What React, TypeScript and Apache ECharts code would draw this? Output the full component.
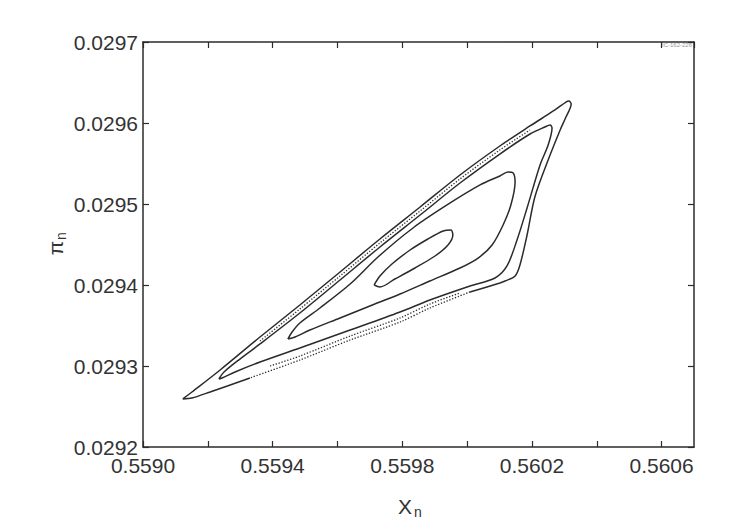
import React, { useEffect, useRef } from "react";
import * as echarts from "echarts";

// Axis ranges / ticks
const xMin = 0.559;
const xMax = 0.5607;
const xStep = 0.0002;
const yMin = 0.0292;
const yMax = 0.0297;
const yStep = 0.0001;

// Outer invariant curve (solid part)
const loopASolid: [number, number][] = [
  [0.55933, 0.0292852], [0.559207, 0.0292679], [0.559151, 0.0292605], [0.559123, 0.0292593],
  [0.559151, 0.0292679], [0.559238, 0.0292951], [0.559361, 0.0293358], [0.559484, 0.0293753],
  [0.559608, 0.0294161], [0.559731, 0.0294568], [0.559855, 0.0294963], [0.559978, 0.0295358],
  [0.560101, 0.0295716], [0.560194, 0.0295963], [0.560271, 0.0296161], [0.560305, 0.0296259],
  [0.560314, 0.0296272], [0.560321, 0.0296235], [0.560305, 0.0296074], [0.560287, 0.0295914],
  [0.56025, 0.0295543], [0.560209, 0.0295087], [0.560185, 0.0294617], [0.560163, 0.0294247],
  [0.560148, 0.0294111], [0.560117, 0.0294049], [0.560101, 0.0294025], [0.560009, 0.0293914],
];
// Outer curve, lower edge drawn as scattered points
const loopADotted: [number, number][] = [
  [0.560009, 0.0293914], [0.559885, 0.0293716], [0.559793, 0.0293543], [0.559639, 0.0293321],
  [0.559484, 0.0293074], [0.55933, 0.0292852],
];
const loopB: [number, number][] = [
  [0.559234, 0.029284], [0.55925, 0.0292926], [0.559299, 0.0293086], [0.559361, 0.0293272],
  [0.559484, 0.0293654], [0.559608, 0.0294062], [0.559731, 0.0294469], [0.559855, 0.0294864],
  [0.559978, 0.0295259], [0.560101, 0.0295617], [0.560194, 0.0295864], [0.56024, 0.0295951],
  [0.560256, 0.0295975], [0.560262, 0.0295938], [0.56025, 0.0295728], [0.560225, 0.0295482],
  [0.560185, 0.0294951], [0.560154, 0.0294556], [0.560123, 0.0294235], [0.560086, 0.0294086],
  [0.560009, 0.0293988], [0.559885, 0.0293815], [0.559793, 0.0293667], [0.559639, 0.0293444],
  [0.559484, 0.0293222], [0.559361, 0.0293049], [0.559284, 0.0292926], [0.559244, 0.0292852],
  [0.559234, 0.029284],
];
const loopC: [number, number][] = [
  [0.559447, 0.0293333], [0.55946, 0.029342], [0.559484, 0.0293531], [0.559546, 0.0293716],
  [0.559639, 0.0294012], [0.559725, 0.0294346], [0.559833, 0.0294704], [0.559938, 0.0294988],
  [0.56004, 0.0295235], [0.560101, 0.0295346], [0.560126, 0.0295395], [0.560142, 0.0295383],
  [0.560148, 0.0295272], [0.560135, 0.0294988], [0.560111, 0.0294741], [0.560077, 0.0294494],
  [0.560034, 0.0294333], [0.559978, 0.029421], [0.559885, 0.0294049], [0.559793, 0.0293889],
  [0.5597, 0.0293741], [0.559608, 0.0293593], [0.559515, 0.0293444], [0.559469, 0.0293358],
  [0.559447, 0.0293333],
];
const loopD: [number, number][] = [
  [0.559713, 0.0294], [0.559731, 0.0294111], [0.559768, 0.0294259], [0.559824, 0.0294432],
  [0.559879, 0.0294568], [0.559926, 0.0294667], [0.55995, 0.0294679], [0.559956, 0.0294617],
  [0.559941, 0.0294494], [0.559901, 0.0294358], [0.559839, 0.029421], [0.559777, 0.0294074],
  [0.559731, 0.0293975], [0.559713, 0.0294],
];
// Scattered points in the chaotic band
const upperBand: [number, number][] = [
  [0.559361, 0.0293309], [0.559484, 0.0293704], [0.559608, 0.0294111], [0.559731, 0.0294519],
  [0.559855, 0.0294914], [0.559978, 0.0295309], [0.560101, 0.0295667], [0.560194, 0.0295914],
];
const lowerBand: [number, number][] = [
  [0.559392, 0.0293], [0.559484, 0.0293123], [0.559639, 0.029337], [0.559793, 0.0293593],
  [0.559885, 0.0293765], [0.559978, 0.0293901],
];

const FONT = "'Liberation Sans', Arial, Helvetica, sans-serif";
const INK = "#2b2b2b";

export default function App() {
  const ref = useRef<HTMLDivElement>(null);
  useEffect(() => {
    if (!ref.current) return;
    const chart = echarts.init(ref.current, undefined, { renderer: "svg" });
    const solid = (data: [number, number][]) => ({
      type: "line",
      data,
      symbol: "none",
      smooth: 0.3,
      silent: true,
      lineStyle: { color: INK, width: 1.5 },
    });
    const dotted = (data: [number, number][]) => ({
      type: "line",
      data,
      symbol: "none",
      smooth: 0.3,
      silent: true,
      lineStyle: { color: INK, width: 1.3, type: [1.3, 1.7] },
    });
    const xFmt = (v: number) => {
      const k = Math.round((v - xMin) / xStep);
      if (Math.abs(v - (xMin + k * xStep)) > 1e-8) return "";
      return k % 2 === 0 ? v.toFixed(4) : "";
    };
    const xCommon = {
      type: "value",
      min: xMin,
      max: xMax,
      interval: xStep,
      splitLine: { show: false },
      axisLine: { show: true, onZero: false, lineStyle: { color: INK, width: 1.5 } },
      axisTick: { show: true, inside: true, length: 6, lineStyle: { color: INK, width: 1.2 } },
    };
    const yCommon = {
      type: "value",
      min: yMin,
      max: yMax,
      interval: yStep,
      splitLine: { show: false },
      axisLine: { show: true, onZero: false, lineStyle: { color: INK, width: 1.5 } },
      axisTick: { show: true, inside: true, length: 6, lineStyle: { color: INK, width: 1.2 } },
    };
    chart.setOption({
      animation: false,
      backgroundColor: "#ffffff",
      grid: { left: 143, top: 42, width: 551, height: 405, containLabel: false, outerBoundsMode: "none" },
      xAxis: [
        {
          ...xCommon,
          position: "bottom",
          axisLabel: {
            show: true,
            margin: 8,
            fontSize: 21,
            color: "#333",
            fontFamily: FONT,
            showMaxLabel: false,
            formatter: xFmt,
          },
        },
        { ...xCommon, position: "top", axisLabel: { show: false } },
      ],
      yAxis: [
        {
          ...yCommon,
          position: "left",
          axisLabel: {
            show: true,
            margin: 5,
            fontSize: 21,
            color: "#333",
            fontFamily: FONT,
            formatter: (v: number) => v.toFixed(4),
          },
        },
        { ...yCommon, position: "right", axisLabel: { show: false } },
      ],
      graphic: [
        { type: "text", x: 405, y: 506, style: { text: "X", fontSize: 21, fill: "#333", font: `21px ${FONT}`, align: "center", verticalAlign: "middle" } },
        { type: "text", x: 418, y: 512, style: { text: "n", fontSize: 14, fill: "#333", font: `14px ${FONT}`, align: "center", verticalAlign: "middle" } },
        { type: "text", x: 55, y: 248, rotation: Math.PI / 2, style: { text: "π", fill: "#333", font: `21px ${FONT}`, align: "center", verticalAlign: "middle" } },
        { type: "text", x: 61, y: 236, rotation: Math.PI / 2, style: { text: "n", fill: "#333", font: `14px ${FONT}`, align: "center", verticalAlign: "middle" } },
        { type: "text", x: 692, y: 45, style: { text: "IC-162-226", fill: "#999", font: `6px ${FONT}`, align: "right", verticalAlign: "middle" } },
      ],
      series: [
        solid(loopASolid),
        dotted(loopADotted),
        solid(loopB),
        solid(loopC),
        solid(loopD),
        dotted(upperBand),
        dotted(lowerBand),
      ],
    });
    return () => chart.dispose();
  }, []);
  return (
    <div
      ref={ref}
      style={{ position: "fixed", left: 0, top: 0, width: 747, height: 528, background: "#fff" }}
    />
  );
}
